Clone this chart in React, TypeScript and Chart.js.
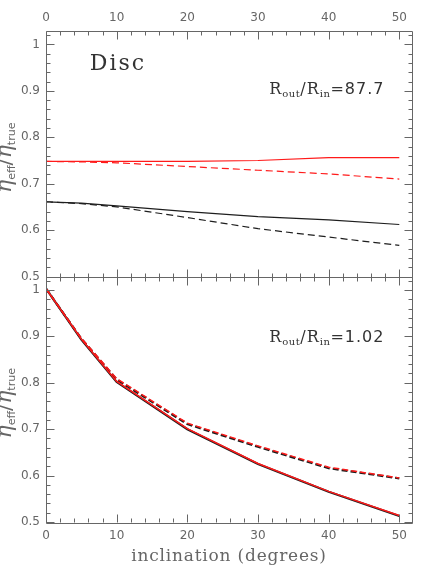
import React, { useEffect, useRef } from 'react';
import { Chart, registerables } from 'chart.js';

Chart.register(...registerables);

// ---- data ----
const INCLINATION = [0, 5, 10, 20, 30, 40, 50];

// upper panel: R_out/R_in = 87.7
const TOP_RED_SOLID = [0.748, 0.748, 0.748, 0.748, 0.750, 0.756, 0.756];
const TOP_RED_DASHED = [0.748, 0.747, 0.745, 0.737, 0.729, 0.721, 0.710];
const TOP_BLACK_SOLID = [0.661, 0.658, 0.652, 0.640, 0.629, 0.622, 0.612];
const TOP_BLACK_DASHED = [0.661, 0.657, 0.650, 0.627, 0.603, 0.585, 0.567];

// lower panel: R_out/R_in = 1.02
const BOT_BLACK_SOLID = [1.003, 0.893, 0.802, 0.700, 0.625, 0.565, 0.513];
const BOT_BLACK_DASHED = [1.003, 0.895, 0.807, 0.711, 0.662, 0.616, 0.594];
const BOT_RED_SOLID = [1.003, 0.894, 0.803, 0.701, 0.626, 0.566, 0.514];
const BOT_RED_DASHED = [1.003, 0.896, 0.809, 0.713, 0.664, 0.618, 0.595];

const X_TICKS = [0, 10, 20, 30, 40, 50];
const Y_TICKS = [0.5, 0.6, 0.7, 0.8, 0.9, 1];
const X_RANGE = [0, 51.8];
const Y_RANGE = [0.5, 1.029];

const TOP_LABEL = '87.7';
const BOT_LABEL = '1.02';
const PANEL_TITLE = 'Disc';
const X_TITLE = 'inclination (degrees)';

const X_MINOR: number[] = [];
for (let v = 0; v <= 50.001; v += 2) X_MINOR.push(v);
const Y_MINOR: number[] = [];
for (let k = 25; k <= 51; k++) Y_MINOR.push(k / 50);

const AXIS_COLOR = '#666';
const LABEL_COLOR = '#666';
const TEXT_COLOR = '#333';

type Part = { t: string; font: string; dy?: number; ls?: number };

function measureParts(ctx: CanvasRenderingContext2D, parts: Part[]) {
  let w = 0;
  for (const p of parts) {
    ctx.font = p.font;
    (ctx as any).letterSpacing = (p.ls || 0) + 'px';
    w += ctx.measureText(p.t).width;
  }
  return w;
}

function drawParts(ctx: CanvasRenderingContext2D, parts: Part[], x: number, y: number) {
  let cx = x;
  for (const p of parts) {
    ctx.font = p.font;
    (ctx as any).letterSpacing = (p.ls || 0) + 'px';
    ctx.fillText(p.t, cx, y + (p.dy || 0));
    cx += ctx.measureText(p.t).width;
  }
  (ctx as any).letterSpacing = '0px';
}

const decorPlugin = {
  id: 'decor',
  afterDatasetsDraw(chart: any) {
    const ctx: CanvasRenderingContext2D = chart.ctx;
    const xs = chart.scales.x;
    const panels = [chart.scales.yTop, chart.scales.yBot];
    const left = chart.chartArea.left;
    const right = chart.chartArea.right;
    const r = (v: number) => Math.round(v) + 0.5;
    ctx.save();
    ctx.strokeStyle = AXIS_COLOR;
    ctx.lineWidth = 1;
    for (const ys of panels) {
      const top = ys.top;
      const bottom = ys.bottom;
      ctx.beginPath();
      ctx.rect(r(left), r(top), Math.round(right - left), Math.round(bottom - top));
      ctx.stroke();
      ctx.beginPath();
      for (const v of X_MINOR) {
        const px = r(xs.getPixelForValue(v));
        const len = X_TICKS.includes(v) ? 8 : 4;
        ctx.moveTo(px, r(top));
        ctx.lineTo(px, r(top) + len);
        ctx.moveTo(px, r(bottom));
        ctx.lineTo(px, r(bottom) - len);
      }
      for (const v of Y_MINOR) {
        const py = r(ys.getPixelForValue(v));
        const major = Y_TICKS.some((t) => Math.abs(t - v) < 1e-6);
        const len = major ? 8 : 4;
        ctx.moveTo(r(left), py);
        ctx.lineTo(r(left) + len, py);
        ctx.moveTo(r(right), py);
        ctx.lineTo(r(right) - len, py);
      }
      ctx.stroke();
    }

    // y titles
    ctx.fillStyle = LABEL_COLOR;
    ctx.textBaseline = 'alphabetic';
    ctx.textAlign = 'left';
    const yTitle: Part[] = [
      { t: 'η', font: 'italic 22px "DejaVu Serif"' },
      { t: 'eff', font: '11px "DejaVu Sans"', dy: 3.5 },
      { t: '/', font: '21px "DejaVu Serif"' },
      { t: 'η', font: 'italic 22px "DejaVu Serif"' },
      { t: 'true', font: '11px "DejaVu Sans"', dy: 3.5 },
    ];
    for (const ys of panels) {
      const cy = (ys.top + ys.bottom) / 2 + 4;
      ctx.save();
      ctx.translate(11, cy);
      ctx.rotate(-Math.PI / 2);
      const w = measureParts(ctx, yTitle);
      drawParts(ctx, yTitle, -w / 2, 0);
      ctx.restore();
    }

    // x title
    ctx.font = '17px "DejaVu Serif"';
    (ctx as any).letterSpacing = '0.8px';
    ctx.textAlign = 'center';
    ctx.textBaseline = 'middle';
    ctx.fillText(X_TITLE, (left + right) / 2, 557);
    (ctx as any).letterSpacing = '0px';

    // panel annotations
    ctx.fillStyle = TEXT_COLOR;
    ctx.textAlign = 'left';
    ctx.textBaseline = 'alphabetic';
    const yTop = chart.scales.yTop;
    const yBot = chart.scales.yBot;
    drawParts(ctx, [{ t: PANEL_TITLE, font: '22px "DejaVu Serif"', ls: 2 }], xs.getPixelForValue(6.2), yTop.getPixelForValue(0.945));
    const ratio = (val: string): Part[] => [
      { t: 'R', font: '16px "DejaVu Serif"', ls: 1 },
      { t: 'out', font: '10px "DejaVu Serif"', dy: 3, ls: 0.5 },
      { t: '/', font: '16px "DejaVu Serif"', ls: 1 },
      { t: 'R', font: '16px "DejaVu Serif"', ls: 1 },
      { t: 'in', font: '10px "DejaVu Serif"', dy: 3, ls: 0.5 },
      { t: '=' + val, font: '16px "DejaVu Sans"', ls: 1 },
    ];
    drawParts(ctx, ratio(TOP_LABEL), xs.getPixelForValue(31.6), yTop.getPixelForValue(0.894));
    drawParts(ctx, ratio(BOT_LABEL), xs.getPixelForValue(31.6), yBot.getPixelForValue(0.888));
    ctx.restore();
  },
};

const pts = (arr: number[]) => INCLINATION.map((x, i) => ({ x, y: arr[i] }));

const tickFont = { family: '"DejaVu Sans"', size: 12 };
const fmt = (v: any) => String(+(+v).toFixed(2));

function xAxis(position: 'top' | 'bottom', padding: number, height: number) {
  return {
    type: 'linear' as const,
    position,
    min: X_RANGE[0],
    max: X_RANGE[1],
    grid: { display: false, drawTicks: false },
    border: { display: false },
    ticks: { padding, font: tickFont, color: LABEL_COLOR, maxRotation: 0, callback: fmt },
    afterBuildTicks: (s: any) => {
      s.ticks = X_TICKS.map((value) => ({ value }));
    },
    afterFit: (s: any) => {
      s.height = height;
    },
  };
}

function yAxis() {
  return {
    type: 'linear' as const,
    position: 'left' as const,
    stack: 'panels',
    stackWeight: 1,
    min: Y_RANGE[0],
    max: Y_RANGE[1],
    grid: { display: false, drawTicks: false },
    border: { display: false },
    ticks: { padding: 6, font: tickFont, color: LABEL_COLOR, callback: fmt },
    afterBuildTicks: (s: any) => {
      s.ticks = Y_TICKS.map((value) => ({ value }));
    },
    afterFit: (s: any) => {
      s.width = 46;
    },
  };
}

function line(data: number[], color: string, width: number, dashed: boolean, axis: string, dash: number[]) {
  return {
    data: pts(data),
    borderColor: color,
    borderWidth: width,
    borderDash: dashed ? dash : [],
    pointRadius: 0,
    tension: 0,
    fill: false,
    xAxisID: 'x',
    yAxisID: axis,
  };
}

export default function App() {
  const ref = useRef<HTMLCanvasElement>(null);
  useEffect(() => {
    if (!ref.current) return;
    const RED = '#ff1a1a';
    const BLACK = '#1e1e1e';
    const chart = new Chart(ref.current, {
      type: 'line',
      data: {
        datasets: [
          line(BOT_RED_SOLID, RED, 1.5, false, 'yBot', []),
          line(BOT_RED_DASHED, RED, 1.5, true, 'yBot', [6, 3]),
          line(BOT_BLACK_SOLID, BLACK, 2.2, false, 'yBot', []),
          line(BOT_BLACK_DASHED, BLACK, 2.2, true, 'yBot', [6, 3]),
          line(TOP_RED_SOLID, RED, 1.2, false, 'yTop', []),
          line(TOP_RED_DASHED, RED, 1.2, true, 'yTop', [7, 4]),
          line(TOP_BLACK_SOLID, BLACK, 1.2, false, 'yTop', []),
          line(TOP_BLACK_DASHED, BLACK, 1.2, true, 'yTop', [7, 4]),
        ] as any,
      },
      options: {
        responsive: false,
        animation: false,
        devicePixelRatio: 1,
        layout: { padding: { left: 0, right: 24, top: 0, bottom: 0 } },
        plugins: { legend: { display: false }, tooltip: { enabled: false } },
        scales: {
          x: xAxis('bottom', 7, 59),
          x2: xAxis('top', 6, 31),
          yBot: yAxis(),
          yTop: yAxis(),
        } as any,
      },
      plugins: [decorPlugin],
    });
    return () => chart.destroy();
  }, []);
  return (
    <div style={{ position: 'fixed', left: 0, top: 0, width: 436, height: 581, background: '#fff' }}>
      <canvas ref={ref} width={436} height={581} style={{ display: 'block' }} />
    </div>
  );
}
